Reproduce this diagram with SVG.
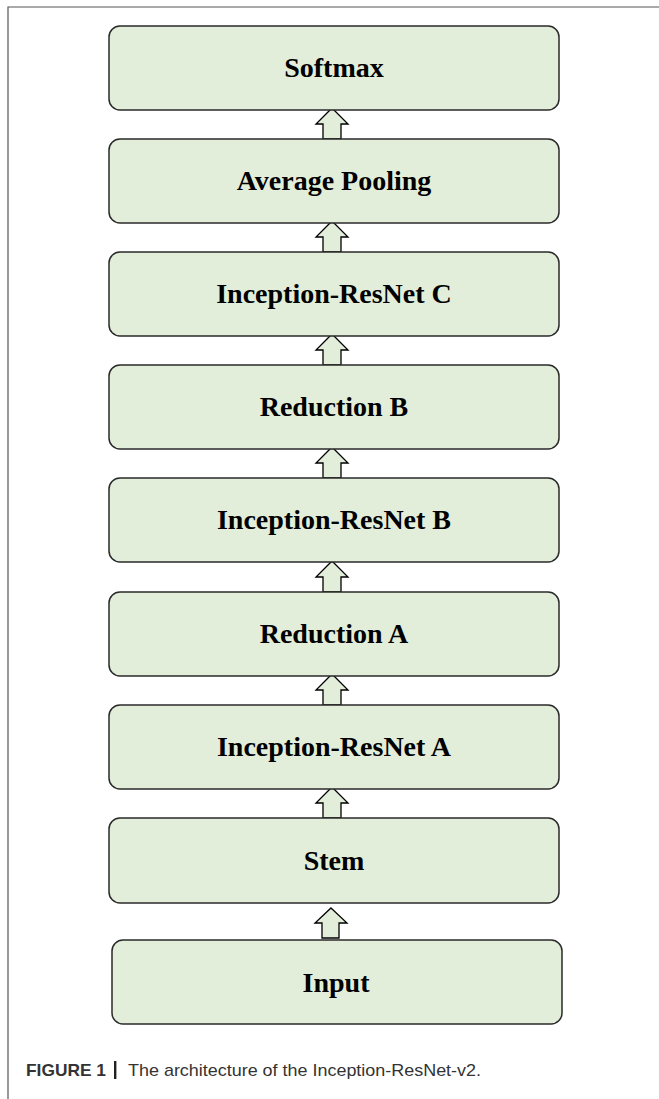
<svg xmlns="http://www.w3.org/2000/svg" width="659" height="1099" viewBox="0 0 659 1099">
<defs>
<style>
.box{fill:#e2eed9;stroke:#2a2a2a;stroke-width:1.5}
.lbl{font-family:"Liberation Serif","Times New Roman",serif;font-weight:bold;font-size:28px;fill:#000;text-anchor:middle}
.arr{fill:#e2eed9;stroke:#000;stroke-width:1.3;stroke-linejoin:miter}
.frame{stroke:#555;stroke-width:1.2;fill:none}
.cap{font-family:"Liberation Sans",Arial,sans-serif;font-size:17px;fill:#333}
</style>
</defs>
<rect width="659" height="1099" fill="#fff"/>
<path class="frame" d="M8,1099 V7 H659"/>
<g id="connectors">
<path class="arr" d="M332,108 L348,124 L341,124 L341,139 L323,139 L323,124 L316,124 Z"/>
<path class="arr" d="M332,221 L348,237 L341,237 L341,252 L323,252 L323,237 L316,237 Z"/>
<path class="arr" d="M332,334 L348,350 L341,350 L341,365 L323,365 L323,350 L316,350 Z"/>
<path class="arr" d="M332,447 L348,463 L341,463 L341,478 L323,478 L323,463 L316,463 Z"/>
<path class="arr" d="M332,561 L348,577 L341,577 L341,592 L323,592 L323,577 L316,577 Z"/>
<path class="arr" d="M332,674 L348,690 L341,690 L341,705 L323,705 L323,690 L316,690 Z"/>
<path class="arr" d="M332,787 L348,803 L341,803 L341,818 L323,818 L323,803 L316,803 Z"/>
<path class="arr" d="M331,908 L347,923 L339,923 L339,938 L322,938 L322,923 L315,923 Z"/>
</g>
<g id="softmax"><rect class="box" x="109" y="26" width="450" height="84" rx="11"/><text class="lbl" x="334" y="77">Softmax</text></g>
<g id="avgpool"><rect class="box" x="109" y="139" width="450" height="84" rx="11"/><text class="lbl" x="334" y="190">Average Pooling</text></g>
<g id="irc"><rect class="box" x="109" y="252" width="450" height="84" rx="11"/><text class="lbl" x="334" y="303">Inception-ResNet C</text></g>
<g id="redb"><rect class="box" x="109" y="365" width="450" height="84" rx="11"/><text class="lbl" x="334" y="416">Reduction B</text></g>
<g id="irb"><rect class="box" x="109" y="478" width="450" height="84" rx="11"/><text class="lbl" x="334" y="529">Inception-ResNet B</text></g>
<g id="reda"><rect class="box" x="109" y="592" width="450" height="84" rx="11"/><text class="lbl" x="334" y="643">Reduction A</text></g>
<g id="ira"><rect class="box" x="109" y="705" width="450" height="84" rx="11"/><text class="lbl" x="334" y="756">Inception-ResNet A</text></g>
<g id="stem"><rect class="box" x="109" y="818" width="450" height="85" rx="11"/><text class="lbl" x="334" y="870">Stem</text></g>
<g id="input"><rect class="box" x="112" y="940" width="450" height="84" rx="11"/><text class="lbl" x="336" y="992">Input</text></g>
<text class="cap" x="26" y="1076" font-weight="bold" fill="#222" textLength="80" lengthAdjust="spacingAndGlyphs">FIGURE 1</text>
<rect x="114" y="1061" width="2.4" height="18" fill="#222"/>
<text class="cap" x="128" y="1076" textLength="353" lengthAdjust="spacingAndGlyphs">The architecture of the Inception-ResNet-v2.</text>
</svg>
